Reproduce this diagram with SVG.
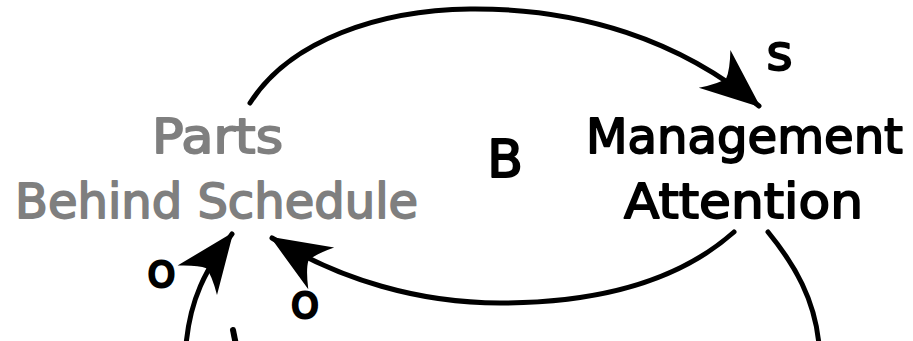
<svg xmlns="http://www.w3.org/2000/svg" width="913" height="341" viewBox="0 0 913 341">
<style>
.lbl{font-family:"DejaVu Sans","Liberation Sans",sans-serif;font-size:48px;text-anchor:middle;stroke-width:1.8;stroke-linejoin:round}
.gray{fill:#7f7f7f;stroke:#7f7f7f}
.blk{fill:#000;stroke:#000}
.pol{font-family:"DejaVu Sans","Liberation Sans",sans-serif;text-anchor:middle;fill:#000;stroke:#000;stroke-width:2;stroke-linejoin:round}
.link{fill:none;stroke:#000;stroke-width:5;stroke-linecap:round}
</style>
<defs>
<marker id="ah" markerUnits="userSpaceOnUse" markerWidth="70" markerHeight="60" refX="0" refY="0" viewBox="-56 -28 60 56" orient="auto" overflow="visible">
<path d="M2 0 L-54 -23 Q-42 -8 -40 0 Q-42 8 -54 23 Z" fill="#000"/>
</marker>
</defs>
<rect width="913" height="341" fill="#fff"/>
<g id="connectors">
<path class="link" d="M250 103 C290 40 380 10 470 9 C580 8 680 40 759 106" marker-end="url(#ah)"/>
<path class="link" d="M734 232 C680 280 600 303 500 303 C420 303 340 280 272 238" marker-end="url(#ah)"/>
<path class="link" d="M186 345 C190 300 205 270 232 234" marker-end="url(#ah)"/>
<path class="link" d="M768 232 C795 265 815 300 819 345"/>
<path class="link" d="M233 330 L236 345" style="stroke-width:6"/>
</g>
<g id="node-parts">
<text class="lbl gray" x="217.5" y="153" textLength="131" lengthAdjust="spacingAndGlyphs">Parts</text>
<text class="lbl gray" x="216.5" y="218" textLength="403" lengthAdjust="spacingAndGlyphs">Behind Schedule</text>
</g>
<g id="node-management">
<text class="lbl blk" x="744.5" y="153" textLength="317" lengthAdjust="spacingAndGlyphs">Management</text>
<text class="lbl blk" x="743.5" y="218" textLength="239" lengthAdjust="spacingAndGlyphs">Attention</text>
</g>
<g id="labels">
<text class="pol" x="505" y="177" font-size="52">B</text>
<text class="pol" x="779.5" y="70" font-size="50">s</text>
<text class="pol" x="161.5" y="287" font-size="48">o</text>
<text class="pol" x="305" y="318" font-size="48">o</text>
</g>
</svg>
